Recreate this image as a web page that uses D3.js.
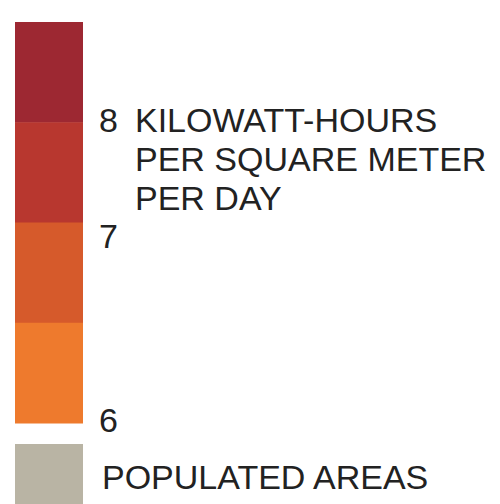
<!DOCTYPE html>
<html>
<head>
<meta charset="utf-8">
<script src="https://cdn.jsdelivr.net/npm/d3@7"></script>
<style>
  html, body { margin: 0; padding: 0; background: #ffffff; }
  svg { display: block; }
  text { font-family: "Liberation Sans", Arial, Helvetica, sans-serif; fill: #222222; }
</style>
</head>
<body>
<script>
// Solar irradiance classes, top (highest) to bottom (lowest)
const bandIds = ["b4", "b3", "b2", "b1"];
const bandColors = ["#9d2832", "#b8372f", "#d65a2b", "#ee7a2d"];

// Tick labels along the colour bar
const tickValues = [8, 7, 6];
const unitLines = ["KILOWATT-HOURS", "PER SQUARE METER", "PER DAY"];

// Extra swatch
const otherLabel = "POPULATED AREAS";
const otherColor = "#b9b4a4";

const W = 500, H = 504;
const svg = d3.select("body").append("svg")
  .attr("width", W).attr("height", H);

const barX = 15, barW = 68;

// Colour bands laid out on a band scale
const y = d3.scaleBand().domain(bandIds).range([22, 423]).paddingInner(0).paddingOuter(0);
const color = d3.scaleOrdinal().domain(bandIds).range(bandColors);

svg.append("g").selectAll("rect")
  .data(bandIds)
  .join("rect")
  .attr("x", barX)
  .attr("y", d => y(d))
  .attr("width", barW)
  .attr("height", y.bandwidth() + 0.5)
  .attr("fill", d => color(d));

// Baselines of the numeric labels beside the bar
const yVal = d3.scaleLinear().domain([6, 7, 8]).range([432, 248, 132]);
const fs = 34;

svg.append("g").selectAll("text")
  .data(tickValues)
  .join("text")
  .attr("x", 99)
  .attr("y", d => yVal(d))
  .attr("font-size", fs)
  .text(d => d);

// Unit caption next to the top label
svg.append("g").selectAll("text")
  .data(unitLines)
  .join("text")
  .attr("x", 135)
  .attr("y", (d, i) => yVal(8) + i * 39)
  .attr("font-size", fs)
  .text(d => d);

// Populated-areas swatch
svg.append("rect")
  .attr("x", barX).attr("y", 444)
  .attr("width", barW).attr("height", H - 444)
  .attr("fill", otherColor);

svg.append("text")
  .attr("x", 102)
  .attr("y", 489)
  .attr("font-size", fs)
  .text(otherLabel);
</script>
</body>
</html>
